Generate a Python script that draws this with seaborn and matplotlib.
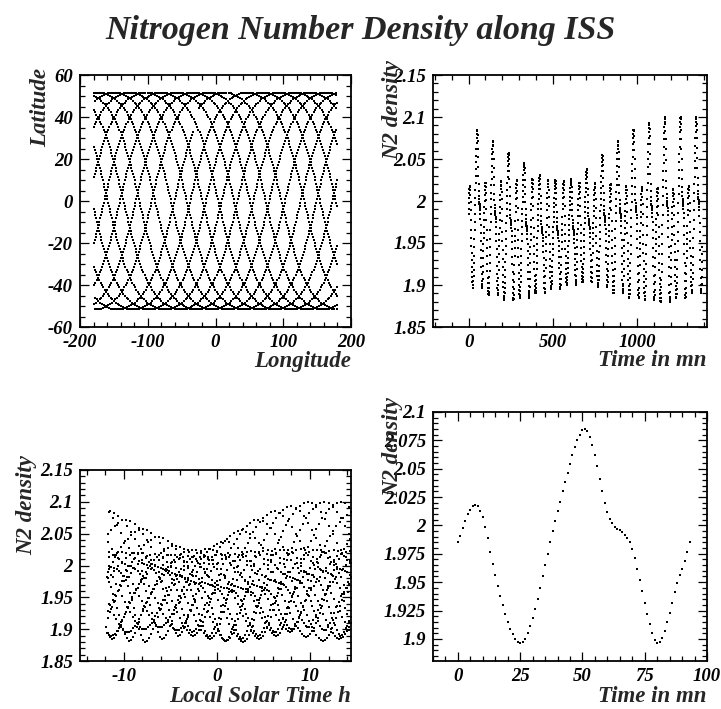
import numpy as np
import pandas as pd
import seaborn as sns
import matplotlib
matplotlib.use("Agg")
import matplotlib.pyplot as plt
from matplotlib.ticker import MultipleLocator, FuncFormatter

# ---------------- data ----------------
# one-orbit N2 density profile (bottom-right panel), one value per minute, t = 0..93
orbit_profile = [
    1.985, 1.991, 1.998, 2.004, 2.010, 2.014, 2.017, 2.018, 2.017, 2.013,
    2.007, 1.999, 1.989, 1.977, 1.966, 1.956, 1.947, 1.938, 1.930, 1.922,
    1.915, 1.909, 1.904, 1.900, 1.897, 1.896, 1.897, 1.900, 1.905, 1.911,
    1.918, 1.926, 1.935, 1.945, 1.955, 1.965, 1.975, 1.985, 1.995, 2.004,
    2.013, 2.021, 2.030, 2.038, 2.046, 2.054, 2.062, 2.069, 2.075, 2.080,
    2.084, 2.085, 2.083, 2.078, 2.071, 2.062, 2.052, 2.041, 2.030, 2.020,
    2.012, 2.006, 2.002, 1.999, 1.997, 1.996, 1.994, 1.992, 1.989, 1.985,
    1.979, 1.971, 1.962, 1.952, 1.942, 1.932, 1.922, 1.913, 1.905, 1.899,
    1.896, 1.897, 1.901, 1.907, 1.915, 1.923, 1.932, 1.941, 1.949, 1.956,
    1.962, 1.969, 1.977, 1.985,
]
# per-orbit extrema (15 orbits)
orbit_high_peak = [2.085, 2.072, 2.057, 2.045, 2.031, 2.025, 2.026, 2.038,
                   2.055, 2.072, 2.085, 2.093, 2.100, 2.100, 2.100]
orbit_low_peak = [2.018, 2.022, 2.024, 2.025, 2.026, 2.025, 2.024, 2.022,
                  2.021, 2.020, 2.018, 2.017, 2.015, 2.014, 2.018]
orbit_trough = [1.896, 1.888, 1.882, 1.885, 1.890, 1.895, 1.900, 1.903,
                1.898, 1.890, 1.885, 1.882, 1.880, 1.885, 1.890]

# orbit parameters of the ISS track
orbit_period_mn = 93.0
inclination_deg = 51.6
duration_mn = 1390
start_longitude = -75.0


def ground_track(tt):
    inc = np.radians(inclination_deg)
    u = np.pi / 2 + 2 * np.pi * (tt - 7) / orbit_period_mn
    la = np.degrees(np.arcsin(np.sin(inc) * np.sin(u)))
    lo_in = np.degrees(np.unwrap(np.arctan2(np.cos(inc) * np.sin(u), np.cos(u))))
    lo_un = start_longitude + lo_in - 360.0 / 1436.0 * tt
    return la, lo_un


# ---------------- build the day-long series ----------------
t = np.arange(0, duration_mn + 1, 1.0)
tau = (t % orbit_period_mn).astype(int)
k = (t // orbit_period_mn).astype(int)
prof = np.array(orbit_profile)
base = prof[tau] - prof.min()
H = np.array(orbit_high_peak)[k]
L = np.array(orbit_low_peak)[k]
T = np.array(orbit_trough)[k]
in_high = (tau >= 25) & (tau < 80)
hi_amp = max(orbit_profile[25:80]) - min(orbit_profile)
lo_amp = max(orbit_profile[:25]) - min(orbit_profile)
density = np.where(in_high, T + base * (H - T) / hi_amp, T + base * (L - T) / lo_amp)

lat, lon_un = ground_track(t)
c_ut = 3.63
win = 26.3
xlo = -11.9
raw = lon_un / 15 + c_ut * t / 60
b = -11.5 - raw[51]
lst = xlo + np.mod(raw + b - xlo, win)

df = pd.DataFrame({"t": t, "lst": lst, "n2": density})
df_orbit = pd.DataFrame({"t": np.arange(len(orbit_profile)), "n2": orbit_profile})

t_fine = np.arange(0, duration_mn + 0.25, 0.5)
lat_f, lon_f = ground_track(t_fine)
df_track = pd.DataFrame({"lon": (lon_f + 180) % 360 - 180, "lat": lat_f})

# ---------------- figure ----------------
sns.set_style("ticks")
plt.rcParams["font.family"] = ["Liberation Serif", "DejaVu Serif"]
plt.rcParams["font.weight"] = "bold"
plt.rcParams["font.style"] = "italic"

W, Hh = 721, 709
fig = plt.figure(figsize=(W / 100, Hh / 100), dpi=100)


def axes_px(l, t_, r, b_):
    return fig.add_axes([l / W, 1 - b_ / Hh, (r - l) / W, (b_ - t_) / Hh])


gfmt = FuncFormatter(lambda v, p: ("%g" % round(v, 4)))


def style(ax, xlim, ylim, xmaj, xmin, ymaj, ymin):
    ax.set_xlim(*xlim)
    ax.set_ylim(*ylim)
    ax.xaxis.set_major_locator(MultipleLocator(xmaj))
    ax.xaxis.set_minor_locator(MultipleLocator(xmin))
    ax.yaxis.set_major_locator(MultipleLocator(ymaj))
    ax.yaxis.set_minor_locator(MultipleLocator(ymin))
    ax.xaxis.set_major_formatter(gfmt)
    ax.yaxis.set_major_formatter(gfmt)
    ax.tick_params(which="both", direction="in", top=True, right=True,
                   width=0.9, colors="black", labelsize=13.5)
    ax.tick_params(which="major", length=6.5)
    ax.tick_params(which="minor", length=3.5)
    ax.tick_params(axis="x", pad=5)
    ax.tick_params(axis="y", pad=5)
    for s in ax.spines.values():
        s.set_linewidth(1.3)
        s.set_color("black")
    ax.set_xlabel("")
    ax.set_ylabel("")


kw = dict(s=2.6, marker="s", color="black", linewidth=0, legend=False)

ax1 = axes_px(80, 75, 351, 327)
sns.scatterplot(data=df_track, x="lon", y="lat", ax=ax1, **kw)
style(ax1, (-200, 200), (-60, 60), 100, 20, 20, 5)

ax2 = axes_px(433, 75, 707, 327)
sns.scatterplot(data=df, x="t", y="n2", ax=ax2, **kw)
style(ax2, (-212, 1417), (1.85, 2.15), 500, 100, 0.05, 0.01)

ax3 = axes_px(80, 470, 351, 661)
sns.scatterplot(data=df, x="lst", y="n2", ax=ax3, **kw)
style(ax3, (-14.7, 14.4), (1.85, 2.15), 10, 2, 0.05, 0.01)

ax4 = axes_px(433, 412, 707, 661)
sns.scatterplot(data=df_orbit, x="t", y="n2", ax=ax4, **kw)
style(ax4, (-10, 100), (1.8805, 2.1), 25, 5, 0.025, 0.005)

fs = 16.5
fig.text(0.5, 1 - 30 / Hh, "Nitrogen Number Density along ISS", ha="center",
         va="center", fontsize=24.5)
fig.text(41 / W, 1 - 68 / Hh, "Latitude", rotation=90, ha="center", va="top", fontsize=fs)
fig.text(351 / W, 1 - 361 / Hh, "Longitude", ha="right", va="center", fontsize=fs)
fig.text(393 / W, 1 - 60 / Hh, "N2 density", rotation=90, ha="center", va="top", fontsize=fs)
fig.text(707 / W, 1 - 361 / Hh, "Time in mn", ha="right", va="center", fontsize=fs)
fig.text(27 / W, 1 - 455 / Hh, "N2 density", rotation=90, ha="center", va="top", fontsize=fs)
fig.text(351 / W, 1 - 697 / Hh, "Local Solar Time h", ha="right", va="center", fontsize=fs)
fig.text(393 / W, 1 - 397 / Hh, "N2 density", rotation=90, ha="center", va="top", fontsize=fs)
fig.text(707 / W, 1 - 697 / Hh, "Time in mn", ha="right", va="center", fontsize=fs)

fig.savefig("out.png", dpi=100)
